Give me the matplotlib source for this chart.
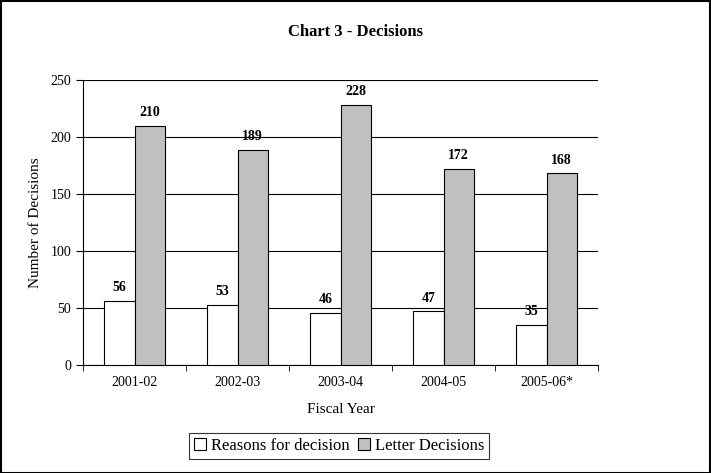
import matplotlib.pyplot as plt
import numpy as np
from matplotlib.patches import Rectangle

years = ['2001-02', '2002-03', '2003-04', '2004-05', '2005-06*']
reasons = [56, 53, 46, 47, 35]
letters = [210, 189, 228, 172, 168]

plt.rcParams['font.family'] = 'serif'
plt.rcParams['font.serif'] = ['Liberation Serif', 'DejaVu Serif']

fig = plt.figure(figsize=(7.11, 4.73), dpi=100)
ax = fig.add_axes([83 / 711, 108 / 473, 515 / 711, 285 / 473])

x = np.arange(len(years))
w = 0.295
b1 = ax.bar(x - w / 2, reasons, w, color='white', edgecolor='black', linewidth=0.8,
            label='Reasons for decision', zorder=3)
b2 = ax.bar(x + w / 2, letters, w, color='#c0c0c0', edgecolor='black', linewidth=0.8,
            label='Letter Decisions', zorder=3)

for xi, v in zip(x - w / 2, reasons):
    ax.text(xi, v + 6, str(v), ha='center', va='bottom', fontsize=10, fontweight='bold')
for xi, v in zip(x + w / 2, letters):
    ax.text(xi, v + 6, str(v), ha='center', va='bottom', fontsize=10, fontweight='bold')

ax.set_xlim(-0.5, len(years) - 0.5)
ax.set_ylim(0, 250)
ax.set_yticks(range(0, 251, 50))
ax.yaxis.grid(True, color='black', linewidth=0.8, zorder=0)
ax.set_xticks(x)
ax.set_xticklabels(years, fontsize=10)
ax.set_xticks(np.arange(-0.5, len(years)), minor=True)
ax.tick_params(axis='x', which='major', length=0, pad=8)
ax.tick_params(axis='x', which='minor', length=4, direction='out')
ax.tick_params(axis='y', length=5, direction='out', labelsize=10)

for s in ['top', 'right']:
    ax.spines[s].set_visible(False)
ax.spines['left'].set_linewidth(0.8)
ax.spines['bottom'].set_linewidth(0.8)

ax.set_ylabel('Number of Decisions', fontsize=11, labelpad=6)
ax.set_xlabel('Fiscal Year', fontsize=11, labelpad=10)
fig.text(0.5, 0.932, 'Chart 3 - Decisions', ha='center', va='center',
         fontsize=12, fontweight='bold')

leg = fig.legend(handles=[b1, b2], loc='center', bbox_to_anchor=(0.477, 0.057),
                 ncol=2, frameon=True, fancybox=False, edgecolor='black',
                 fontsize=12, handlelength=0.7, handleheight=0.7,
                 handletextpad=0.3, columnspacing=0.5, borderpad=0.3)
leg.get_frame().set_linewidth(0.8)

fig.patches.append(Rectangle((0.001, 0.001), 0.998, 0.997, transform=fig.transFigure,
                             fill=False, edgecolor='black', linewidth=1.5))

fig.savefig('out.png', dpi=100)
